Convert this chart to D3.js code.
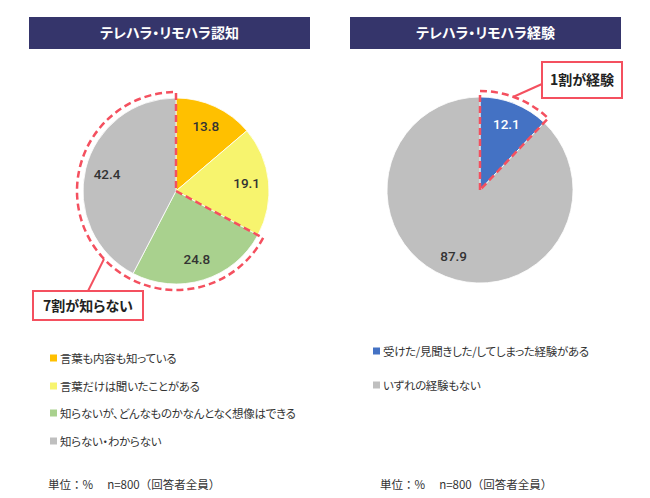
<!DOCTYPE html>
<html>
<head>
<meta charset="utf-8">
<script src="https://cdn.jsdelivr.net/npm/d3@7"></script>
<style>
  body { margin: 0; background: #fff; }
  svg { font-family: "Noto Sans CJK JP", "Noto Sans", sans-serif; }
  svg text.prop { font-feature-settings: "palt"; }
</style>
</head>
<body>
<svg id="chart" width="650" height="498"></svg>
<script>
const leftTitle = "テレハラ・リモハラ認知";
const leftCategories = ["言葉も内容も知っている", "言葉だけは聞いたことがある", "知らないが、どんなものかなんとなく想像はできる", "知らない・わからない"];
const leftValues = [13.8, 19.1, 24.8, 42.4];
const leftColors = ["#FFC000", "#F7F46E", "#A9D18E", "#BFBFBF"];

const rightTitle = "テレハラ・リモハラ経験";
const rightCategories = ["受けた/見聞きした/してしまった経験がある", "いずれの経験もない"];
const rightValues = [12.1, 87.9];
const rightColors = ["#4472C4", "#BFBFBF"];

const footnote = "単位：%　 n=800（回答者全員）";

const svg = d3.select("#chart");
const red = "#F4505F";

function titleBar(x, w, text) {
    svg.append("rect").attr("x", x).attr("y", 17).attr("width", w).attr("height", 32)
        .attr("fill", "#35356B");
    svg.append("text").attr("class", "prop").attr("x", x + w / 2).attr("y", 38).attr("text-anchor", "middle")
        .attr("fill", "#fff").attr("font-size", 14).attr("font-weight", "bold").text(text);
}

function drawPie(cx, cy, values, colors, labelColors) {
    const pie = d3.pie().sort(null).value(d => d);
    const arcs = pie(values);
    const arc = d3.arc().innerRadius(0).outerRadius(93);
    const labelArc = d3.arc().innerRadius(71).outerRadius(71);
    const g = svg.append("g").attr("transform", `translate(${cx},${cy})`);
    g.selectAll("path").data(arcs).enter().append("path")
        .attr("d", arc)
        .attr("fill", (d, i) => colors[i])
        .attr("stroke", "#fff").attr("stroke-width", 0.8);
    g.selectAll("text").data(arcs).enter().append("text")
        .attr("transform", d => `translate(${labelArc.centroid(d)})`)
        .attr("text-anchor", "middle").attr("dy", "0.36em")
        .attr("font-family", "Roboto, sans-serif").attr("font-weight", 500)
        .attr("font-size", 13.5).attr("fill", (d, i) => labelColors[i])
        .text(d => d.data.toFixed(1));
    return { g, arcs };
}

function dashedOutline(g, start, end) {
    const r = 99;
    const path = d3.path();
    path.moveTo(0, 0);
    path.lineTo(r * Math.sin(start), -r * Math.cos(start));
    // d3.path arc angles are measured from +x axis
    path.arc(0, 0, r, start - Math.PI / 2, end - Math.PI / 2, end < start);
    path.lineTo(0, 0);
    g.append("path").attr("d", path.toString())
        .attr("fill", "none").attr("stroke", red).attr("stroke-width", 2.5)
        .attr("stroke-dasharray", "7,4");
}

function legend(x, ys, categories, colors) {
    categories.forEach((c, i) => {
        svg.append("rect").attr("x", x).attr("y", ys[i] - 3.5).attr("width", 7).attr("height", 7)
            .attr("fill", colors[i]);
        svg.append("text").attr("class", "prop").attr("x", x + 10).attr("y", ys[i] + 4.5)
            .attr("font-size", 11.5).attr("letter-spacing", -0.3)
            .attr("fill", "#333").text(c);
    });
}

function callout(x, y, w, h, text, line) {
    svg.append("line").attr("x1", line[0]).attr("y1", line[1]).attr("x2", line[2]).attr("y2", line[3])
        .attr("stroke", red).attr("stroke-width", 2);
    svg.append("rect").attr("x", x).attr("y", y).attr("width", w).attr("height", h)
        .attr("fill", "#fff").attr("stroke", red).attr("stroke-width", 2);
    svg.append("text").attr("class", "prop").attr("x", x + w / 2).attr("y", y + h / 2 + 5).attr("text-anchor", "middle")
        .attr("font-size", 14).attr("font-weight", "bold").attr("fill", "#222").text(text);
}

// left chart
titleBar(29, 281, leftTitle);
const left = drawPie(176, 191, leftValues, leftColors, ["#333", "#333", "#333", "#333"]);
dashedOutline(left.g, left.arcs[2].startAngle, 2 * Math.PI);
callout(33, 291, 110, 29, "7割が知らない", [104, 259, 88, 291]);
legend(50, [358, 386, 413, 441], leftCategories, leftColors);
svg.append("text").attr("x", 48).attr("y", 489).attr("font-size", 11.5).attr("fill", "#333").text(footnote);

// right chart
titleBar(350, 271, rightTitle);
const right = drawPie(480, 190, rightValues, rightColors, ["#fff", "#333"]);
dashedOutline(right.g, 0, right.arcs[0].endAngle);
callout(542, 62, 80, 36, "1割が経験", [513, 97, 542, 84]);
legend(373, [351, 385], rightCategories, rightColors);
svg.append("text").attr("x", 380).attr("y", 489).attr("font-size", 11.5).attr("fill", "#333").text(footnote);
</script>
</body>
</html>
